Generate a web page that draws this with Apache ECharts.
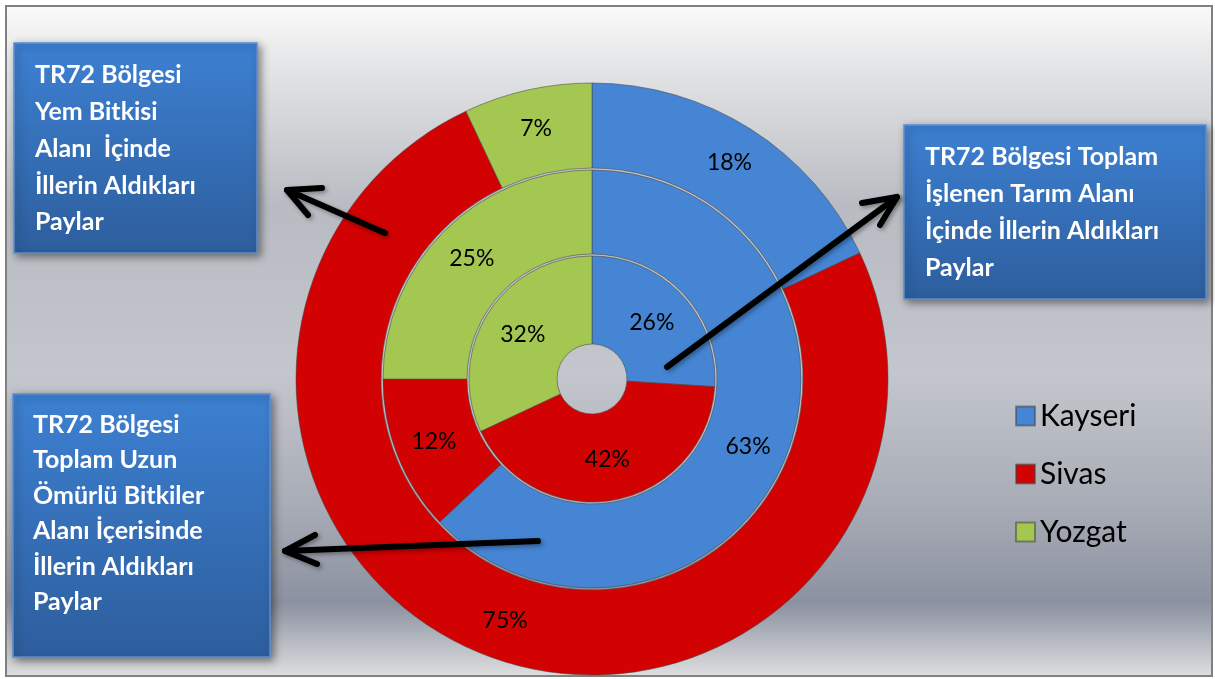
<!DOCTYPE html>
<html>
<head>
<meta charset="utf-8">
<script src="https://cdn.jsdelivr.net/npm/echarts@6/dist/echarts.min.js"></script>
<style>
html,body{margin:0;padding:0;background:#fff;}
#c{width:1215px;height:679px;}
</style>
</head>
<body>
<div id="c"></div>
<script>
// ---- data ----
const provinces = ['Kayseri', 'Sivas', 'Yozgat'];
const innerValues = [26, 42, 32];   // Toplam İşlenen Tarım Alanı
const middleValues = [63, 12, 25];  // Toplam Uzun Ömürlü Bitkiler Alanı
const outerValues = [18, 75, 7];    // Yem Bitkisi Alanı
const boxTexts = [
  'TR72 Bölgesi\nYem Bitkisi\nAlanı  İçinde\nİllerin Aldıkları\nPaylar',
  'TR72 Bölgesi Toplam\nİşlenen Tarım Alanı\nİçinde İllerin Aldıkları\nPaylar',
  'TR72 Bölgesi\nToplam Uzun\nÖmürlü Bitkiler\nAlanı İçerisinde\nİllerin Aldıkları\nPaylar'
];

const colors = ['#4585d3', '#d20202', '#a4c752'];

function ringData(vals) {
  return provinces.map((p, i) => ({
    name: p, value: vals[i],
    itemStyle: { color: colors[i] }
  }));
}

const center = [592, 379];
function ring(vals, r0, r1) {
  return {
    type: 'pie',
    center: center,
    radius: [r0, r1],
    startAngle: 90,
    clockwise: true,
    silent: true,
    z: 2,
    data: ringData(vals),
    itemStyle: { borderColor: 'rgba(70,70,70,0.55)', borderWidth: 1 },
    label: {
      show: true, position: 'inside', formatter: '{c}%',
      color: '#000', fontFamily: 'Lato', fontSize: 23
    },
    labelLine: { show: false }
  };
}

function box(x, y, w, h, text, tx, ty, lh) {
  return {
    type: 'group',
    children: [
      {
        type: 'rect', shape: { x: x, y: y, width: w, height: h },
        style: {
          fill: { type: 'linear', x: 0, y: 0, x2: 0, y2: 1, colorStops: [
            { offset: 0, color: '#3d80d2' }, { offset: 1, color: '#2d5e9d' }] },
          stroke: '#5b8fd1', lineWidth: 1.5,
          shadowColor: 'rgba(0,0,0,0.45)', shadowBlur: 8, shadowOffsetX: 3, shadowOffsetY: 3
        }
      },
      {
        type: 'text', x: tx, y: ty,
        style: {
          text: text, fill: '#fff', font: 'bold 25px Lato', lineHeight: lh,
          textVerticalAlign: 'top'
        }
      }
    ]
  };
}

function arrow(tail, tip, leg1, leg2) {
  const st = { stroke: '#000', lineWidth: 6, lineCap: 'round', lineJoin: 'round',
    shadowColor: 'rgba(0,0,0,0.35)', shadowBlur: 4, shadowOffsetX: 2, shadowOffsetY: 2 };
  return {
    type: 'group',
    children: [
      { type: 'polyline', z: 100, zlevel: 1, shape: { points: [tail, tip] }, style: st },
      { type: 'polyline', z: 100, zlevel: 1, shape: { points: [leg1, tip, leg2] }, style: st }
    ]
  };
}

const chart = echarts.init(document.getElementById('c'));
chart.setOption({
  animation: false,
  backgroundColor: '#ffffff',
  legend: {
    data: provinces,
    orient: 'vertical',
    left: 1010, top: 395,
    icon: 'rect', itemWidth: 19, itemHeight: 19,
    itemGap: 26,
    textStyle: { fontFamily: 'Lato', fontSize: 30, color: '#000', lineHeight: 32 },
    selectedMode: false
  },
  graphic: [
    {
      type: 'rect', z: -10, silent: true,
      shape: { x: 6, y: 6, width: 1206, height: 670 },
      style: {
        fill: { type: 'linear', x: 0, y: 0, x2: 0, y2: 1, colorStops: [
          { offset: 0, color: '#fbfbfb' },
          { offset: 0.08, color: '#e6e7e8' },
          { offset: 0.3, color: '#b8bbc2' },
          { offset: 0.55, color: '#c3c6cc' },
          { offset: 0.75, color: '#a7abb5' },
          { offset: 0.89, color: '#8b91a0' },
          { offset: 1, color: '#dedfe0' }] },
        stroke: '#808080', lineWidth: 2
      }
    },
    box(14, 43, 243, 210, boxTexts[0], 35, 57, 36.7),
    box(904, 125, 302, 174, boxTexts[1], 925, 138, 37),
    box(13, 394, 257, 263, boxTexts[2], 33, 407, 35.5),
    arrow([385, 233], [287, 190], [322, 188], [308, 215]),
    arrow([667, 367], [897, 197], [862, 203], [880, 225]),
    arrow([538, 541], [285, 551], [315, 535], [317, 564])
  ],
  series: [
    ring(innerValues, 35, 123),
    ring(middleValues, 125, 209),
    ring(outerValues, 211, 296)
  ]
});
</script>
</body>
</html>
